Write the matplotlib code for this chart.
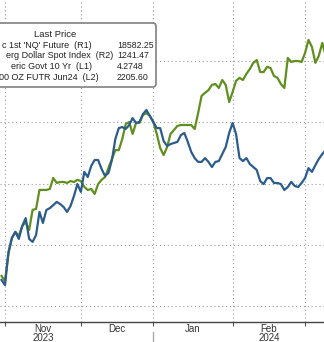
import matplotlib
matplotlib.use("Agg")
import matplotlib.pyplot as plt
from matplotlib.patches import FancyBboxPatch
from matplotlib.lines import Line2D
import numpy as np

plt.rcParams['font.family'] = ['Liberation Sans', 'DejaVu Sans']

# trading-day index, 0 = 1 Nov 2023
days = np.arange(-1, 94)

# NQ future (R1)
nq = [
    14490, 14410, 14850, 15110, 15210, 15145, 15305, 15370, 15240, 15570,
    15585, 15895, 15895, 15895, 15910, 16090, 16010, 16025, 16025, 16010,
    16040, 16025, 16060, 16040, 15945, 15895, 15910, 15830, 15990, 16060,
    16105, 16255, 16400, 16545, 16545, 16725, 16970, 17005, 16810, 16990,
    16990, 17120, 17150, 17105, 17005, 16810, 16580, 16465, 16595, 16810,
    16875, 16940, 16955, 16955, 16955, 16955, 16890, 17150, 17430, 17480,
    17525, 17610, 17625, 17560, 17690, 17610, 17330, 17495, 17675, 17725,
    17690, 17790, 17870, 17970, 18015, 17820, 17820, 17905, 17885, 17755,
    17725, 17625, 17560, 18050, 17985, 18000, 18000, 17985, 18130, 18345,
    18230, 17970, 18085, 18295, 18085,
]

# Bloomberg dollar spot index (R2, inverted)
dollar = [
    1278.2, 1280.1, 1267.8, 1262.7, 1260.4, 1263.0, 1258.2, 1255.3, 1263.0, 1264.1,
    1261.6, 1253.0, 1257.1, 1252.3, 1251.6, 1250.5, 1249.3, 1250.1, 1251.2, 1253.0,
    1250.8, 1247.1, 1242.7, 1245.6, 1238.2, 1240.1, 1236.0, 1233.8, 1233.8, 1237.1,
    1239.7, 1238.6, 1233.8, 1226.0, 1222.0, 1221.6, 1222.3, 1220.9, 1218.3, 1220.1,
    1219.7, 1216.8, 1215.3, 1217.5, 1219.7, 1222.0, 1222.0, 1226.8, 1228.6, 1227.9,
    1227.5, 1227.1, 1224.6, 1223.8, 1227.1, 1230.8, 1233.1, 1234.5, 1234.5, 1233.1,
    1234.5, 1236.4, 1234.5, 1234.2, 1231.6, 1229.0, 1223.8, 1220.1, 1224.2, 1233.1,
    1234.2, 1233.1, 1235.3, 1236.4, 1237.5, 1241.6, 1242.7, 1240.5, 1240.5, 1242.3,
    1242.3, 1242.7, 1244.9, 1243.8, 1241.9, 1243.4, 1243.8, 1242.3, 1240.5, 1236.8,
    1238.2, 1235.7, 1233.4, 1231.6, 1230.1,
]

month_starts = [0, 22, 43, 66, 87]
month_mids = [11, 32.5, 54.5, 76.5]
month_labels = ["Nov\n2023", "Dec", "Jan", "Feb\n2024"]

legend_names = ["c 1st 'NQ' Future  (R1)", "erg Dollar Spot Index  (R2)",
                "eric Govt 10 Yr  (L1)", "00 OZ FUTR Jun24  (L2)"]
legend_values = ["18582.25", "1241.47", "4.2748", "2205.60"]

W, H = 324, 342
fig = plt.figure(figsize=(W / 100, H / 100), dpi=100)
ax = fig.add_axes([0, 20 / H, 1, 322 / H])

ax.set_xlim(-1.45, 92.5)
ax.set_ylim(13739, 18996)
ax.set_yticks([14000, 15000, 16000, 17000, 18000])
ax.set_yticklabels([])
ax.tick_params(axis='y', length=0)

ax.set_xticks(month_starts)
ax.set_xticklabels([])
ax.set_xticks(month_mids, minor=True)
ax.set_xticklabels(month_labels, minor=True, fontsize=7, color='#333333',
                   linespacing=0.92)
ax.tick_params(axis='x', which='major', length=3, color='#555555', width=0.8)
ax.tick_params(axis='x', which='minor', length=0, pad=1.2)

ax.grid(True, which='major', color='#9a9a9a', lw=0.8, linestyle=(0, (1, 2.5)))
for s in ['top', 'left', 'right']:
    ax.spines[s].set_visible(False)
ax.spines['bottom'].set_color('#444444')
ax.spines['bottom'].set_linewidth(1.0)

ax.plot(days, nq, color='#5f8f1f', lw=1.6, solid_joinstyle='round')

ax2 = ax.twinx()
ax2.set_ylim(1293.74, 1174.6)
ax2.plot(days, dollar, color='#2c5c8c', lw=1.6, solid_joinstyle='round')
ax2.set_yticks([])
for s in ax2.spines.values():
    s.set_visible(False)

# separator between the year labels
fig.add_artist(Line2D([153 / W, 153 / W], [0, 10 / H], color='#aaaaaa', lw=1))

# last-price box
box = FancyBboxPatch((-10 / W, 1 - 87 / H), 166 / W, 64 / H,
                     boxstyle="round,pad=0,rounding_size=0.01",
                     transform=fig.transFigure, facecolor='white',
                     edgecolor='#808080', lw=1.2, zorder=10)
fig.add_artist(box)

def fx(x):
    return x / W

def fy(y):
    return 1 - y / H

fig.text(fx(55), fy(34.5), "Last Price", ha='center', va='center',
         fontsize=6.8, color='#222222', zorder=11)
name_ends = [92, 113, 92, 99]
row_y = [45, 55.7, 66.3, 77]
for name, val, xe, yy in zip(legend_names, legend_values, name_ends, row_y):
    fig.text(fx(xe), fy(yy), name, ha='right', va='center', fontsize=6.5,
             color='#222222', zorder=11)
    fig.text(fx(117), fy(yy), val, ha='left', va='center', fontsize=6.3,
             color='#222222', zorder=11)

fig.savefig("out.png", dpi=100, facecolor='white')
